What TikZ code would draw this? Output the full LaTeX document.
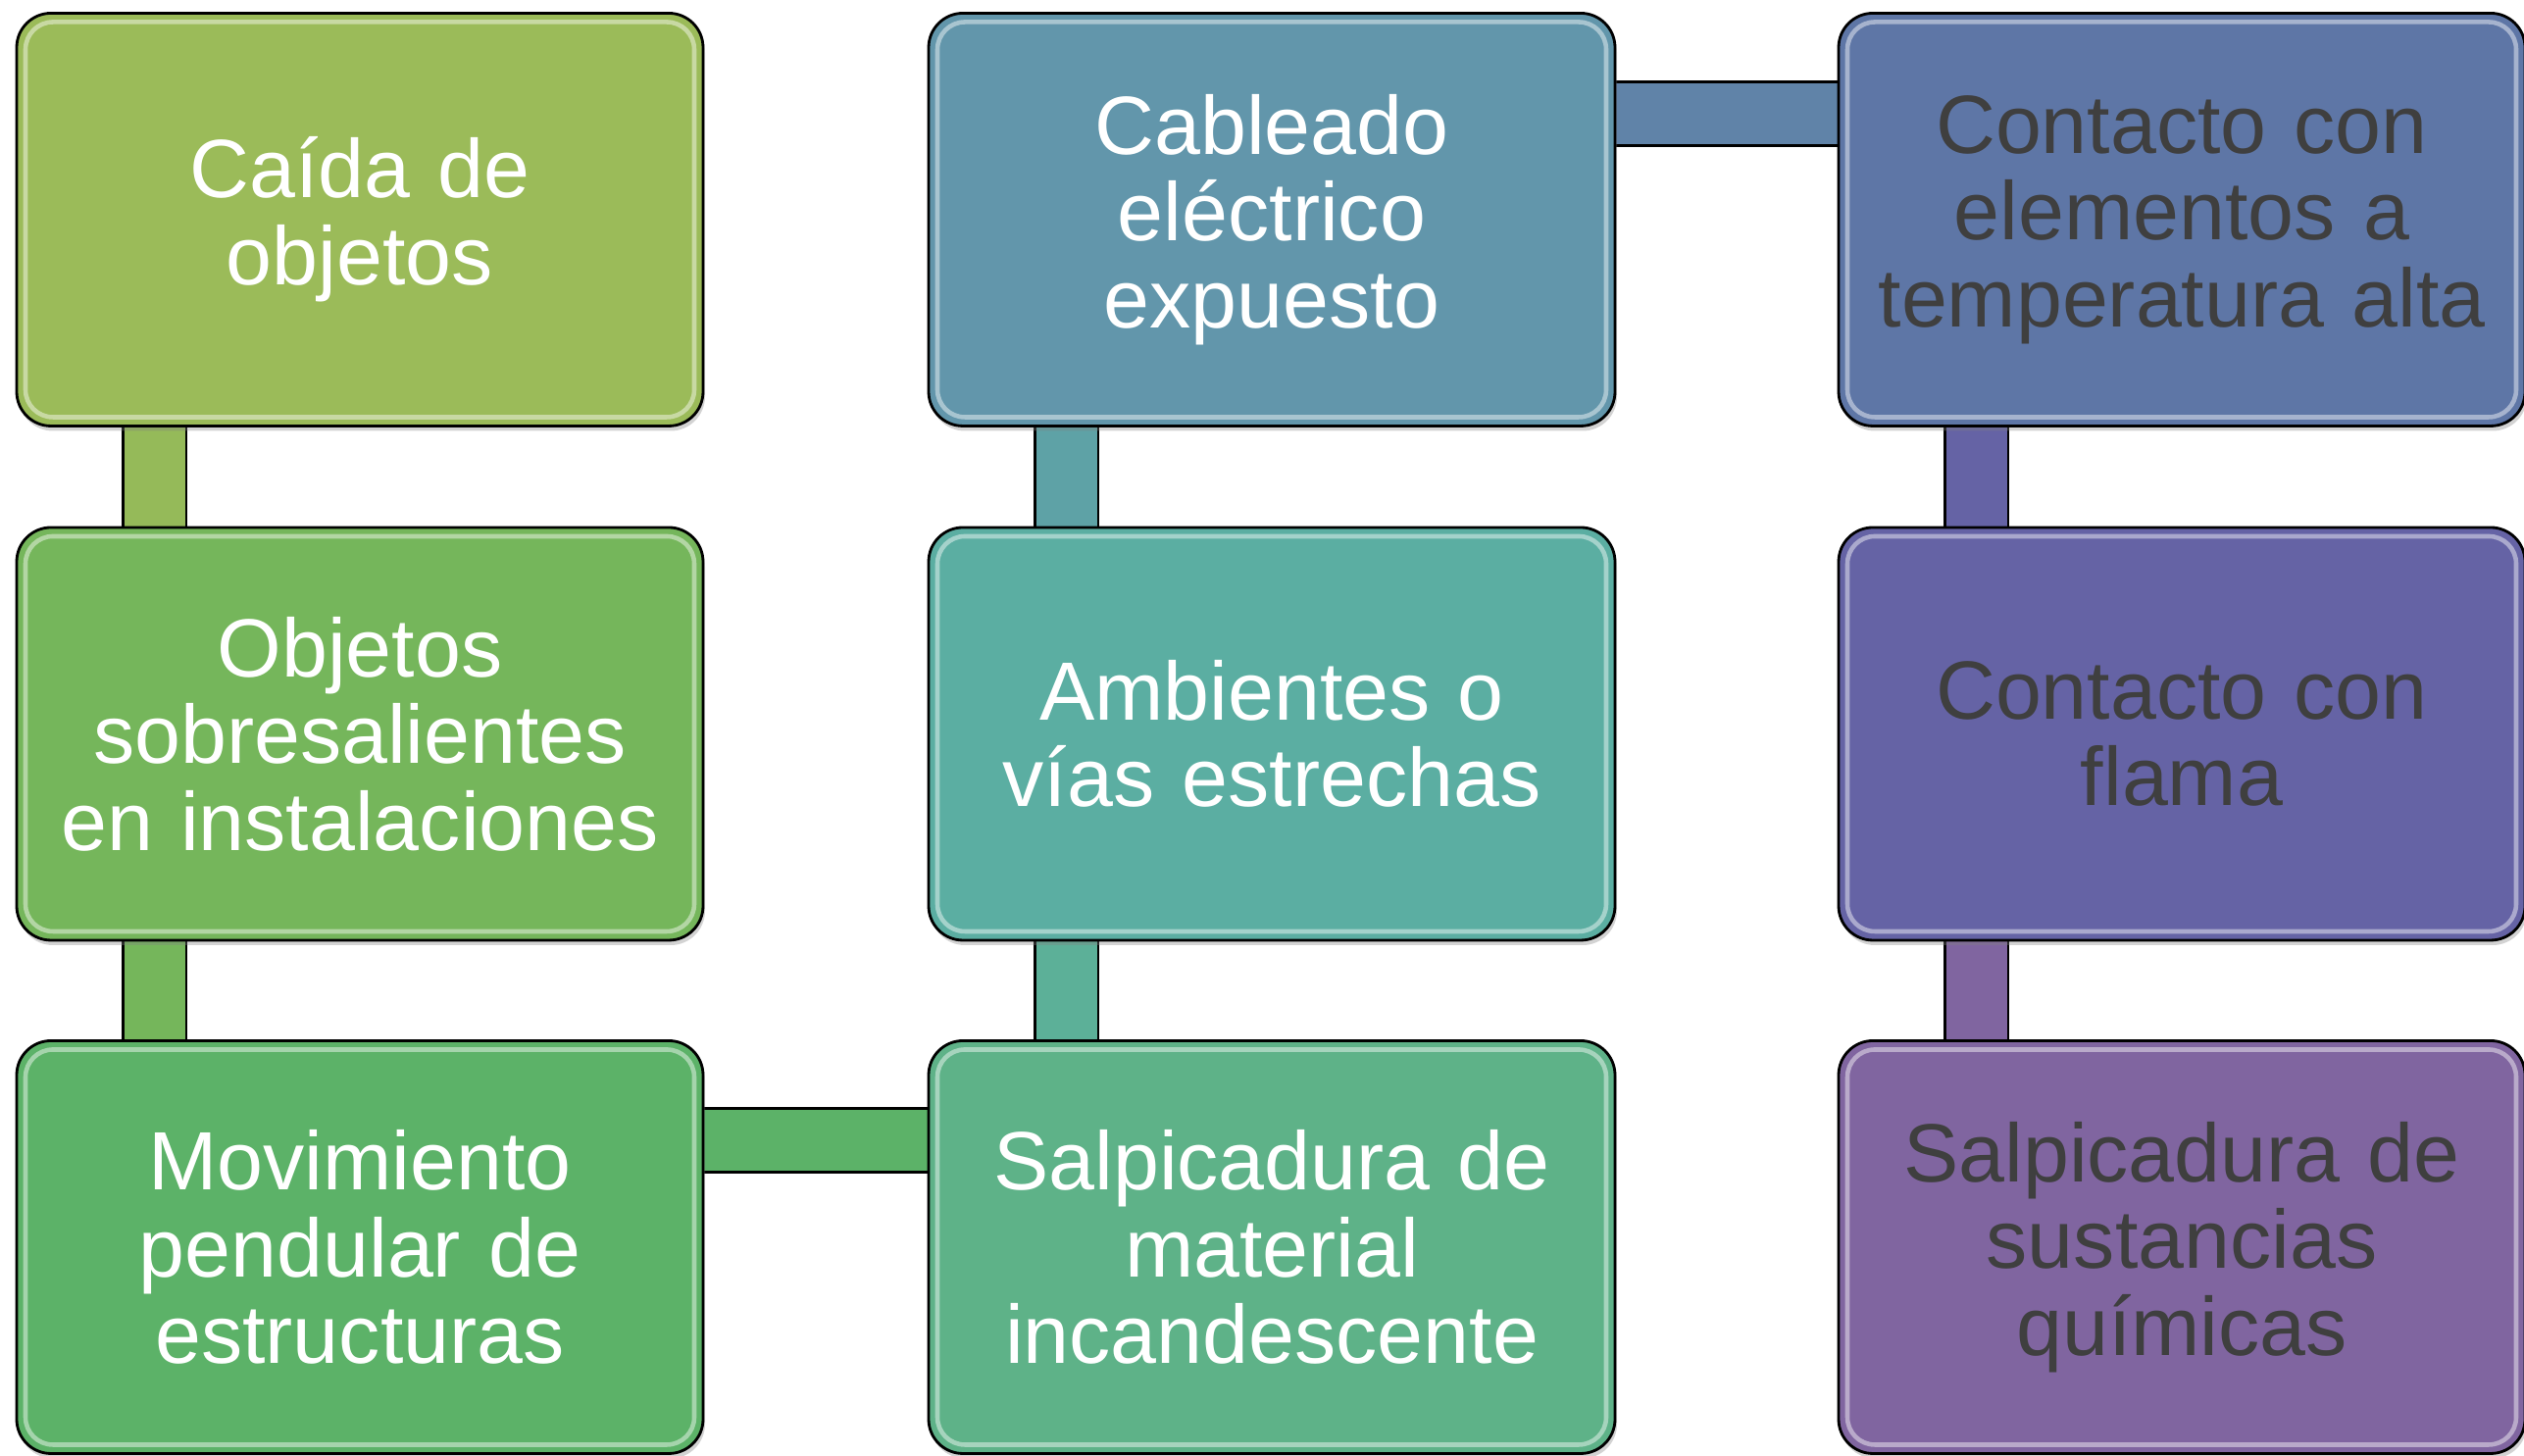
\documentclass[tikz,border=0pt]{standalone}
\usepackage{fontspec}
\setmainfont{Liberation Sans}
\usetikzlibrary{calc,backgrounds,shadows}
\definecolor{olive}{RGB}{155,187,89}
\definecolor{leaf}{RGB}{117,182,91}
\definecolor{grass}{RGB}{92,178,104}
\definecolor{sea}{RGB}{94,178,136}
\definecolor{teal}{RGB}{91,174,162}
\definecolor{steel}{RGB}{98,150,171}
\definecolor{slate}{RGB}{94,118,166}
\definecolor{indigo}{RGB}{101,99,165}
\definecolor{plum}{RGB}{128,101,160}
\definecolor{textgray}{RGB}{63,63,63}
\tikzset{%
  box/.style={draw=black, line width=0.8pt, rounded corners=0.35cm,
    minimum width=7cm, minimum height=4.21cm, text width=6.8cm,
    align=center, inner sep=0pt, font=\fontsize{24}{25.2}\selectfont,
    drop shadow={shadow xshift=0.02cm, shadow yshift=-0.05cm, opacity=0.35},
    path picture={\draw[white, opacity=0.45, line width=1.3pt, rounded corners=0.28cm]
      ($(path picture bounding box.south west)+(0.09,0.09)$) rectangle
      ($(path picture bounding box.north east)+(-0.09,-0.09)$);}},% bevel-like box
  light/.style={box, text=white},% white text
  dark/.style={box, text=textgray},% gray text
  bar/.style={draw=black, line width=0.8pt, double distance=0.62cm}% connector bar
}

\begin{document}
\begin{tikzpicture}
\useasboundingbox (0,0) rectangle (25.74,14.85);

\node[light, fill=olive] (a) at (3.67, 12.61) {Caída de\\objetos};
\node[light, fill=leaf] (b) at (3.67, 7.365) {Objetos\\sobresalientes\\en instalaciones};
\node[light, fill=grass] (c) at (3.67, 2.13) {Movimiento\\pendular de\\estructuras};
\node[light, fill=steel] (d) at (12.97, 12.61) {Cableado\\eléctrico\\expuesto};
\node[light, fill=teal] (e) at (12.97, 7.365) {Ambientes o\\vías estrechas};
\node[light, fill=sea] (f) at (12.97, 2.13) {Salpicadura de\\material\\incandescente};
\node[dark, fill=slate] (g) at (22.25, 12.61) {Contacto con\\elementos a\\temperatura alta};
\node[dark, fill=indigo] (h) at (22.25, 7.365) {Contacto con\\flama};
\node[dark, fill=plum] (i) at (22.25, 2.13) {Salpicadura de\\sustancias\\químicas};

\begin{scope}[on background layer]
\draw[bar, double=olive!85!leaf] ($(a.south west)+(1.42,0.3)$) -- ($(b.north west)+(1.42,-0.3)$);
\draw[bar, double=leaf] ($(b.south west)+(1.42,0.3)$) -- ($(c.north west)+(1.42,-0.3)$);
\draw[bar, double=grass] ($(c.north east)+(-0.3,-1.03)$) -- ($(f.north west)+(0.3,-1.03)$);
\draw[bar, double=steel!50!teal] ($(d.south west)+(1.42,0.3)$) -- ($(e.north west)+(1.42,-0.3)$);
\draw[bar, double=teal!60!sea] ($(e.south west)+(1.42,0.3)$) -- ($(f.north west)+(1.42,-0.3)$);
\draw[bar, double=steel!40!slate] ($(d.north east)+(-0.3,-1.04)$) -- ($(g.north west)+(0.3,-1.04)$);
\draw[bar, double=indigo] ($(g.south west)+(1.42,0.3)$) -- ($(h.north west)+(1.42,-0.3)$);
\draw[bar, double=plum] ($(h.south west)+(1.42,0.3)$) -- ($(i.north west)+(1.42,-0.3)$);
\end{scope}

\end{tikzpicture}
\end{document}
